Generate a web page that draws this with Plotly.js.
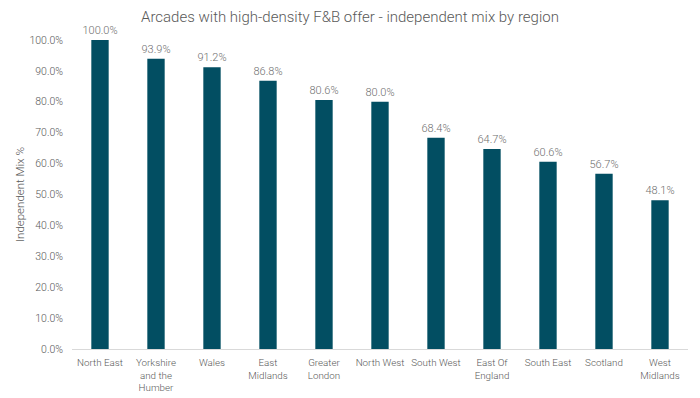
<!DOCTYPE html>
<html><head><meta charset="utf-8">
<script src="https://cdn.plot.ly/plotly-3.0.1.min.js"></script>
<style>html,body{margin:0;padding:0;background:#fff}#c{width:700px;height:398px}</style>
</head><body><div id="c"></div>
<script>
const regions = ["North East","Yorkshire<br>and the<br>Humber","Wales","East<br>Midlands","Greater<br>London","North West","South West","East Of<br>England","South East","Scotland","West<br>Midlands"];
const independentMix = [1.000,0.939,0.912,0.868,0.806,0.800,0.684,0.647,0.606,0.567,0.481];
const yTicks = [0,0.1,0.2,0.3,0.4,0.5,0.6,0.7,0.8,0.9,1.0];

const font = "Roboto, 'Liberation Sans', sans-serif";
Plotly.newPlot('c', [{
  type:'bar', x:regions, y:independentMix,
  marker:{color:'#024E62'},
  text:independentMix.map(v=>(v*100).toFixed(1)+'%'),
  textposition:'outside', cliponaxis:false, constraintext:'none',
  textfont:{family:font,size:11,color:'#6f6f6f',weight:300},
  hoverinfo:'none'
}], {
  width:700, height:398,
  margin:{l:72,r:12,t:40,b:49},
  paper_bgcolor:'#fff', plot_bgcolor:'#fff',
  bargap:0.69,
  title:{text:'Arcades with high-density F&B offer - independent mix by region', font:{family:font,size:15,color:'#595959',weight:300}, x:0.5, xanchor:'center', y:0.97, yanchor:'top'},
  xaxis:{tickfont:{family:font,size:9.8,color:'#595959',weight:300}, showline:true, linecolor:'#d9d9d9', linewidth:1, ticks:'', ticklabelstandoff:4, automargin:false},
  yaxis:{range:[0,1], tickvals:yTicks, ticktext:yTicks.map(v=>(v*100).toFixed(1)+'%'), showgrid:false, zeroline:false, showline:false,
    tickfont:{family:font,size:10.5,color:'#595959',weight:300}, ticklabelstandoff:8,
    title:{text:'Independent Mix %', font:{family:font,size:11.5,color:'#595959',weight:300}, standoff:2}, automargin:false},
  showlegend:false
}, {displayModeBar:false, staticPlot:true});
</script></body></html>
